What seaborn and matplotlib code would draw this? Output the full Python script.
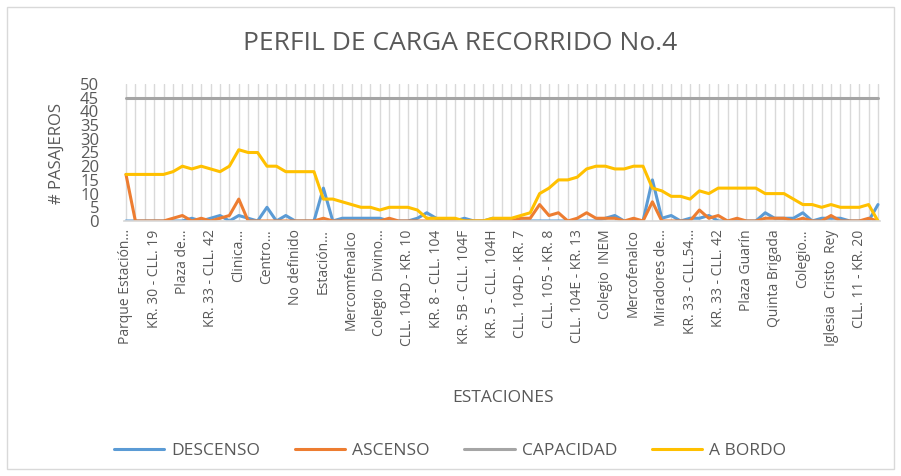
import numpy as np
import pandas as pd
import seaborn as sns
import matplotlib.pyplot as plt
from matplotlib.patches import Rectangle

sns.set_theme(style="white")
plt.rcParams['font.family'] = ['Open Sans', 'DejaVu Sans']

title = "PERFIL DE CARGA RECORRIDO No.4"
tick_labels = ["Parque Estación…", "KR. 30 - CLL. 19", "Plaza de…", "KR. 33 - CLL. 42",
               "Clinica…", "Centro…", "No definido", "Estación…", "Mercomfenalco",
               "Colegio  Divino…", "CLL. 104D - KR. 10", "KR. 8 - CLL. 104", "KR. 5B - CLL. 104F",
               "KR. 5 - CLL. 104H", "CLL. 104D - KR. 7", "CLL. 105 - KR. 8", "CLL. 104E - KR. 13",
               "Colegio  INEM", "Mercofenalco", "Miradores de…", "KR. 33 - CLL.54…",
               "KR. 33 - CLL. 42", "Plaza Guarín", "Quinta Brigada", "Colegio…",
               "Iglesia  Cristo  Rey", "CLL. 11 - KR. 20"]

descenso = [0, 0, 0, 0, 0, 0, 0, 1, 0, 1, 2, 0, 2, 1, 0, 5, 0, 2, 0, 0,
            0, 12, 0, 1, 1, 1, 1, 1, 0, 0, 0, 1, 3, 1, 0, 0, 1, 0, 0, 1,
            0, 0, 0, 0, 0, 0, 0, 0, 0, 0, 0, 1, 2, 0, 0, 0, 15, 1, 2, 0,
            1, 1, 2, 0, 0, 0, 0, 0, 3, 1, 1, 1, 3, 0, 1, 1, 1, 0, 0, 0, 6]
ascenso = [17, 0, 0, 0, 0, 1, 2, 0, 1, 0, 1, 2, 8, 0, 0, 0, 0, 0, 0, 0,
           0, 1, 0, 0, 0, 0, 0, 0, 1, 0, 0, 0, 0, 0, 0, 0, 0, 0, 0, 0,
           0, 0, 1, 1, 6, 2, 3, 0, 1, 3, 1, 1, 1, 0, 1, 0, 7, 0, 0, 0,
           0, 4, 1, 2, 0, 1, 0, 0, 1, 1, 1, 0, 1, 0, 0, 2, 0, 0, 0, 1, 0]
capacidad = [45] * 81
a_bordo = [17, 17, 17, 17, 17, 18, 20, 19, 20, 19, 18, 20, 26, 25, 25, 20, 20, 18, 18, 18,
           18, 8, 8, 7, 6, 5, 5, 4, 5, 5, 5, 4, 1, 1, 1, 1, 0, 0, 0, 1,
           1, 1, 2, 3, 10, 12, 15, 15, 16, 19, 20, 20, 19, 19, 20, 20, 12, 11, 9, 9,
           8, 11, 10, 12, 12, 12, 12, 12, 10, 10, 10, 8, 6, 6, 5, 6, 5, 5, 5, 6, 0]

series_names = ["DESCENSO", "ASCENSO", "CAPACIDAD", "A BORDO"]
colors = ["#5B9BD5", "#ED7D31", "#A5A5A5", "#FFC000"]

n = len(a_bordo)
idx = np.arange(n)
df = pd.concat([
    pd.DataFrame({"x": idx, "v": vals, "serie": name})
    for name, vals in zip(series_names, [descenso, ascenso, capacidad, a_bordo])
], ignore_index=True)

W, H = 901, 476
fig = plt.figure(figsize=(W / 100, H / 100), dpi=100)
fig.patches.append(Rectangle((7 / W, 7 / H), (894 - 7) / W, (469 - 7) / H,
                             transform=fig.transFigure, fill=False,
                             edgecolor="#D9D9D9", lw=1))
left_px, right_px, top_px, bot_px = 124.1, 879.9, 84, 221
ax = fig.add_axes([left_px / W, 1 - bot_px / H, (right_px - left_px) / W, (bot_px - top_px) / H])

sns.lineplot(data=df, x="x", y="v", hue="serie", hue_order=series_names,
             palette=colors, linewidth=2.2, ax=ax, legend=False)

ax.set_xlim(-0.2, n - 1 + 0.2)
ax.set_ylim(0, 50)
ax.set_yticks(range(0, 51, 5))
ax.set_xticks(idx[::3])
ax.set_xticklabels(tick_labels, rotation=90, fontsize=10, color="#595959")
ax.set_xticks(idx, minor=True)
ax.grid(True, axis="x", which="both", color="#D9D9D9", lw=1)
ax.set_axisbelow(True)
ax.tick_params(axis="y", length=0, pad=18, labelsize=12, labelcolor="#595959")
ax.tick_params(axis="x", which="major", length=3, color="#808080", pad=3)
ax.tick_params(axis="x", which="minor", length=0)
for s in ["top", "right", "left"]:
    ax.spines[s].set_visible(False)
ax.spines["bottom"].set_color("#D9D9D9")
ax.set_xlabel("")
ax.set_ylabel("")

fig.text(460 / W, 1 - 44 / H, title, ha="center", va="center", fontsize=19, color="#595959")
fig.text(57 / W, 1 - 153 / H, "# PASAJEROS", rotation=90, ha="center", va="center",
         fontsize=12, color="#595959")
fig.text(503 / W, 1 - 398 / H, "ESTACIONES", ha="center", va="center",
         fontsize=12.5, color="#595959")

handles = [plt.Line2D([], [], color=c, lw=2.2) for c in colors]
leg = fig.legend(handles, series_names, loc="center", bbox_to_anchor=(450 / W, 1 - 451 / H),
                 ncol=4, frameon=False, fontsize=12.5, handlelength=2.9, handletextpad=0.4,
                 columnspacing=2.0)
for t in leg.get_texts():
    t.set_color("#595959")

fig.savefig("out.png", dpi=100)
